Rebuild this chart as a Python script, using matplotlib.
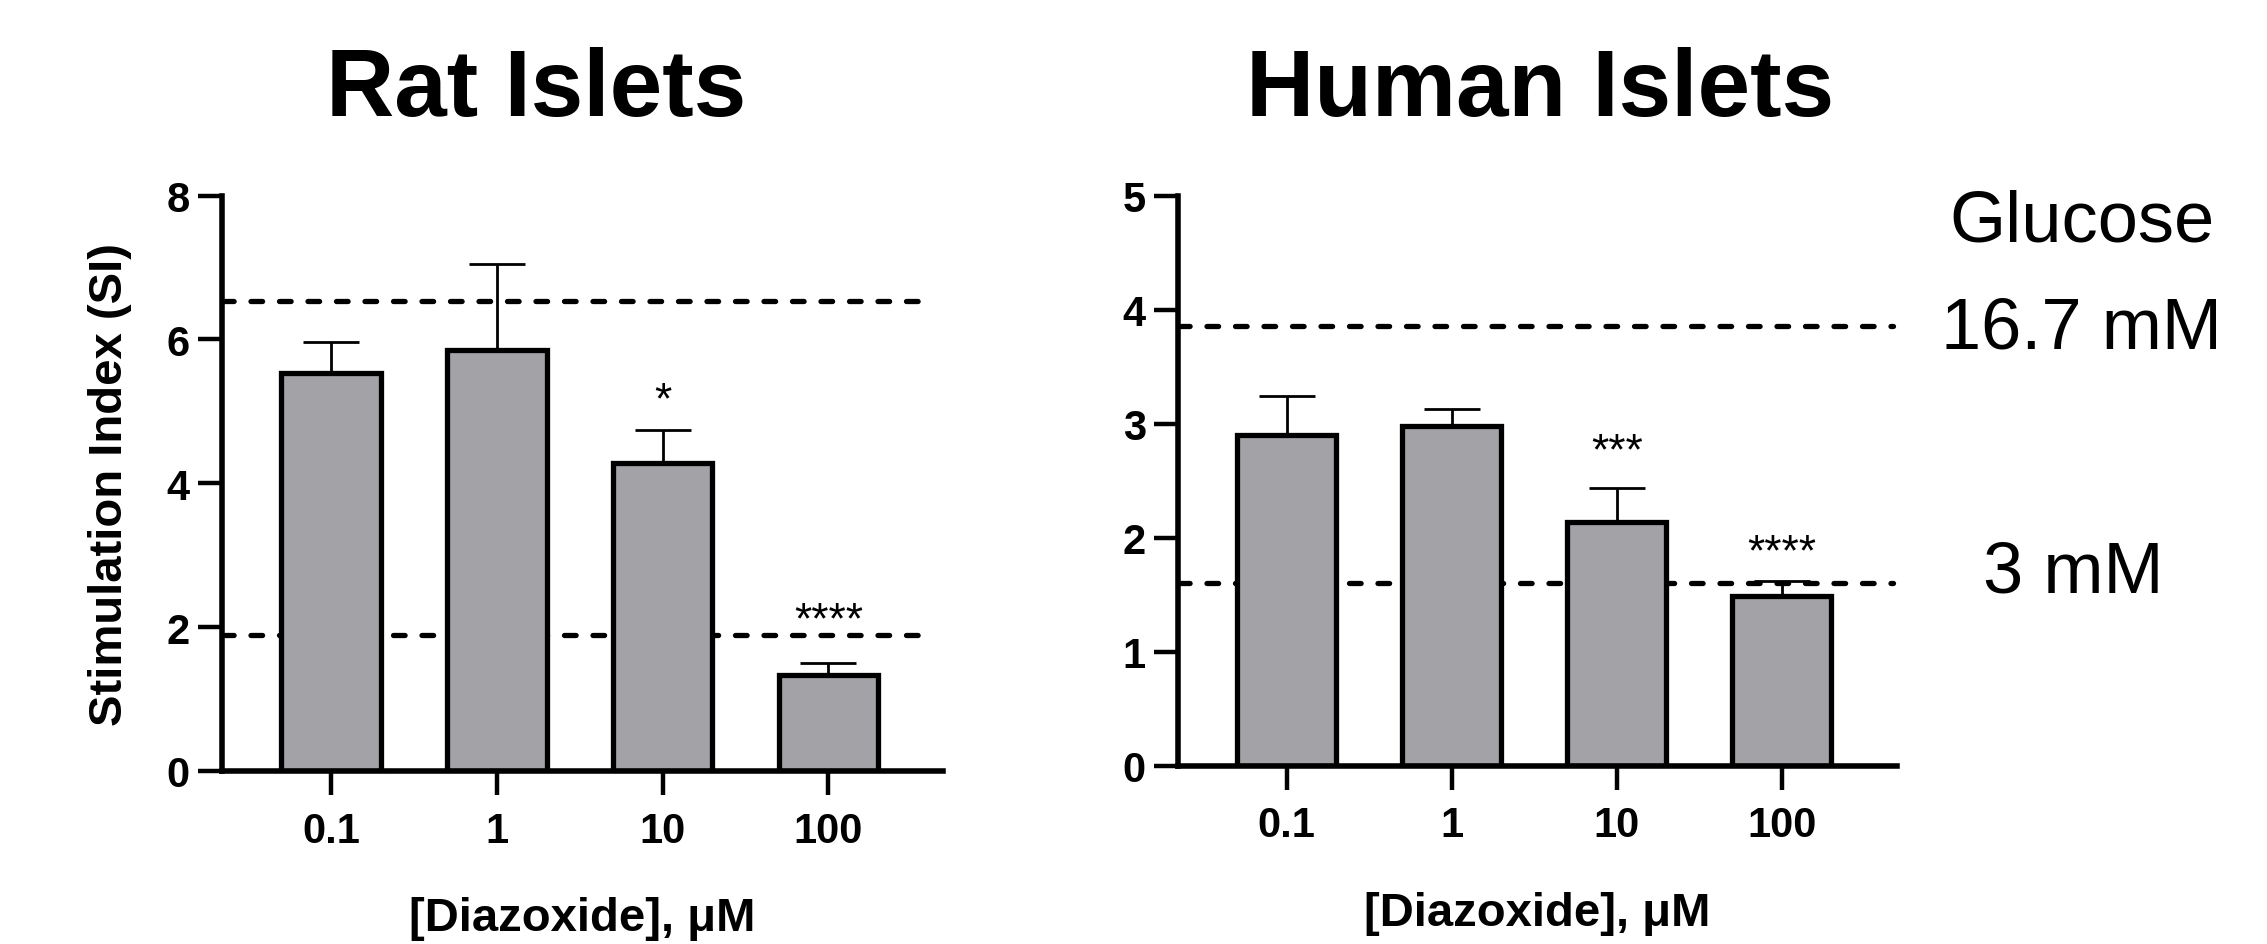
import matplotlib
matplotlib.use("Agg")
import matplotlib.pyplot as plt

plt.rcParams['font.family'] = ['Liberation Sans', 'DejaVu Sans']

# Datos
doses = ['0.1', '1', '10', '100']

rat_si = [5.54, 5.86, 4.28, 1.33]
rat_err = [0.43, 1.19, 0.46, 0.17]
rat_glc_high = 6.54
rat_glc_low = 1.89
rat_stars = ['', '', '*', '****']
rat_star_y = [0, 0, 4.99, 1.93]

human_si = [2.90, 2.98, 2.14, 1.49]
human_err = [0.34, 0.15, 0.30, 0.13]
human_glc_high = 3.86
human_glc_low = 1.60
human_stars = ['', '', '***', '****']
human_star_y = [0, 0, 2.65, 1.77]

bar_color = '#a3a2a7'

fig = plt.figure(figsize=(22.67, 9.45), dpi=100)
ax1 = fig.add_axes([0.0978, 0.1831, 0.3180, 0.6088])
ax2 = fig.add_axes([0.5196, 0.1887, 0.3172, 0.6032])


def draw_panel(ax, vals, errs, high, low, stars, star_y, ymax, xmax, dash_end):
    x = list(range(len(vals)))
    ax.axhline(high, xmin=0, xmax=dash_end, color='black', lw=3.8,
               linestyle=(0, (2.2, 3.2)), dash_capstyle='round', zorder=0.5)
    ax.axhline(low, xmin=0, xmax=dash_end, color='black', lw=3.8,
               linestyle=(0, (2.2, 3.2)), dash_capstyle='round', zorder=0.5)
    ax.errorbar(x, vals, yerr=[[0] * len(errs), errs], fmt='none', ecolor='black',
                elinewidth=2, capsize=20, capthick=2, zorder=1)
    ax.bar(x, vals, width=0.6, color=bar_color, edgecolor='black', linewidth=3.8, zorder=2)
    for xi, s, sy in zip(x, stars, star_y):
        if s:
            ax.text(xi, sy, s, ha='center', va='baseline', fontsize=32)
    ax.set_xlim(-0.66, xmax)
    ax.set_ylim(0, ymax)
    ax.set_xticks(x)
    ax.set_xticklabels(doses)
    ax.spines['top'].set_visible(False)
    ax.spines['right'].set_visible(False)
    ax.spines['left'].set_linewidth(4)
    ax.spines['bottom'].set_linewidth(4)
    ax.tick_params(axis='both', direction='out', length=17, width=3.2,
                   labelsize=30)
    ax.tick_params(axis='x', pad=11.5)
    ax.tick_params(axis='y', pad=6)
    for lab in ax.get_xticklabels() + ax.get_yticklabels():
        lab.set_fontweight('bold')
    ax.set_xlabel('[Diazoxide], μM', fontsize=34, fontweight='bold', labelpad=33)


draw_panel(ax1, rat_si, rat_err, rat_glc_high, rat_glc_low, rat_stars, rat_star_y,
           8, 3.69, 0.975)
ax1.set_yticks([0, 2, 4, 6, 8])
ax1.set_ylabel('Stimulation Index (SI)', fontsize=34, fontweight='bold')
ax1.yaxis.set_label_coords(-0.125, 0.5)

draw_panel(ax2, human_si, human_err, human_glc_high, human_glc_low, human_stars,
           human_star_y, 5, 3.70, 0.994)
ax2.set_yticks([0, 1, 2, 3, 4, 5])

# Títulos
fig.text(536 / 2267, 1 - 116 / 945, 'Rat Islets', ha='center', va='baseline',
         fontsize=68, fontweight='bold')
fig.text(1540 / 2267, 1 - 116 / 945, 'Human Islets', ha='center', va='baseline',
         fontsize=68, fontweight='bold')

# Etiquetas de glucosa
fig.text(2082 / 2267, 1 - 242 / 945, 'Glucose', ha='center', va='baseline', fontsize=52)
fig.text(2081 / 2267, 1 - 349 / 945, '16.7 mM', ha='center', va='baseline', fontsize=52)
fig.text(2073 / 2267, 1 - 593 / 945, '3 mM', ha='center', va='baseline', fontsize=52)

fig.savefig('out.png', dpi=100)
